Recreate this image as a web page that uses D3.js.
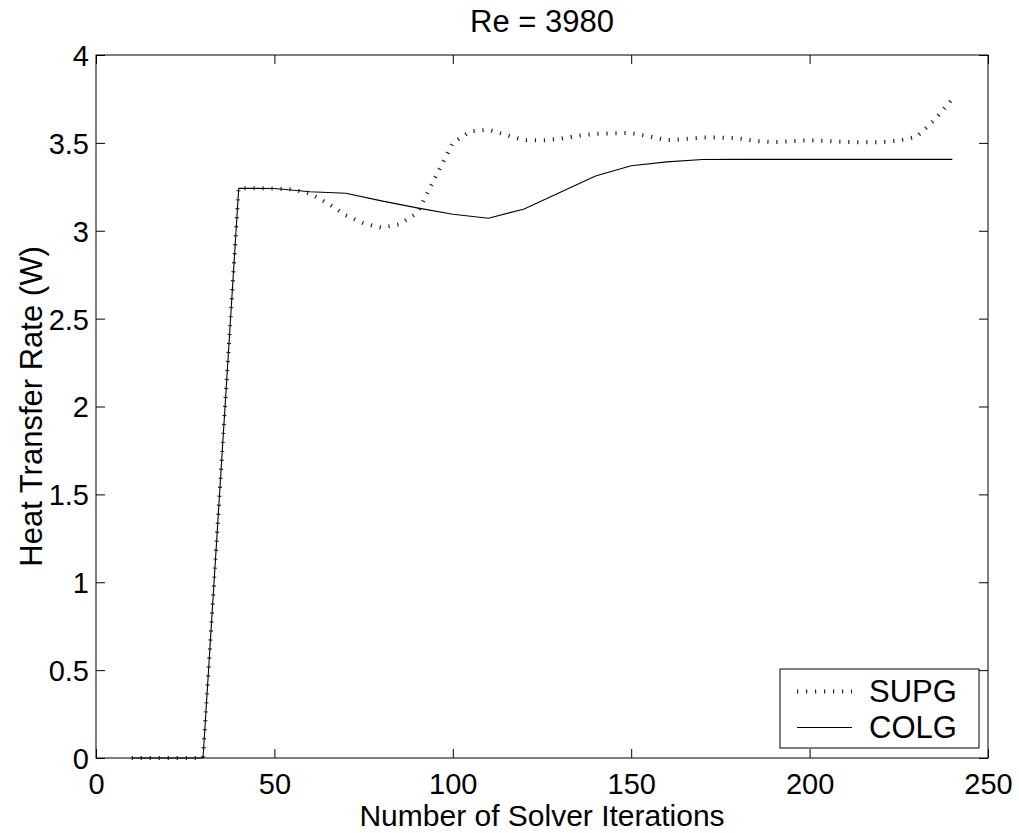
<!DOCTYPE html>
<html>
<head>
  <meta charset="utf-8">
  <script src="https://d3js.org/d3.v7.min.js"></script>
  <style>
    body { margin: 0; background: #fff; }
    text { font-family: "Liberation Sans", Arial, Helvetica, sans-serif; fill: #000; }
    .tick-label { font-size: 29px; }
    .label { font-size: 31px; }
    .xlabel { font-size: 30px; }
    .frame { fill: none; stroke: #000; stroke-width: 1px; }
  </style>
</head>
<body>
  <svg id="chart" width="1019" height="833"></svg>
  <script>

    // ---- data ----
    const colgX = [10, 20, 30, 40, 50, 60, 70, 80, 90, 100, 110, 120, 130, 140, 150, 160, 170, 180, 190, 200, 210, 220, 230, 240];
    const colgY = [0, 0, 0, 3.242, 3.24, 3.222, 3.213, 3.17, 3.13, 3.094, 3.071, 3.124, 3.218, 3.311, 3.37, 3.392, 3.405, 3.406, 3.406, 3.406, 3.406, 3.406, 3.406, 3.406];

    const supgX = [10, 20, 30, 40, 45, 50, 55, 60, 65, 70, 75, 80, 85, 90, 95, 100, 105, 110, 115, 120, 125, 130, 135, 140, 145, 150, 155, 160, 165, 170, 175, 180, 185, 190, 195, 200, 205, 210, 215, 220, 225, 230, 235, 240];
    const supgY = [0, 0, 0, 3.242, 3.242, 3.24, 3.235, 3.212, 3.155, 3.088, 3.042, 3.017, 3.037, 3.1, 3.3, 3.5, 3.566, 3.575, 3.545, 3.515, 3.514, 3.523, 3.54, 3.552, 3.555, 3.556, 3.537, 3.515, 3.522, 3.53, 3.53, 3.526, 3.51, 3.504, 3.51, 3.515, 3.51, 3.506, 3.503, 3.504, 3.513, 3.535, 3.63, 3.75];

    const xTicks = [0, 50, 100, 150, 200, 250];
    const yTicks = [0, 0.5, 1, 1.5, 2, 2.5, 3, 3.5, 4];
    const seriesNames = ["SUPG", "COLG"];

    const svg = d3.select("#chart");
    const plot = { left: 96, right: 988, top: 55, bottom: 758 };

    const x = d3.scaleLinear().domain([0, 250]).range([plot.left, plot.right]);
    const y = d3.scaleLinear().domain([0, 4]).range([plot.bottom, plot.top]);
    const tickLen = 9;

    // frame box
    svg.append("rect").attr("class", "frame")
       .attr("x", plot.left).attr("y", plot.top)
       .attr("width", plot.right - plot.left).attr("height", plot.bottom - plot.top);

    // axes with inward ticks (matlab style), mirrored on top / right
    const fmt = d => String(d);
    const bottomAxis = svg.append("g").attr("transform", `translate(0,${plot.bottom})`)
       .call(d3.axisBottom(x).tickValues(xTicks).tickSize(-tickLen).tickPadding(0).tickFormat(fmt));
    const topAxis = svg.append("g").attr("transform", `translate(0,${plot.top})`)
       .call(d3.axisTop(x).tickValues(xTicks).tickSize(-tickLen).tickFormat(""));
    const leftAxis = svg.append("g").attr("transform", `translate(${plot.left},0)`)
       .call(d3.axisLeft(y).tickValues(yTicks).tickSize(-tickLen).tickPadding(7).tickFormat(fmt));
    const rightAxis = svg.append("g").attr("transform", `translate(${plot.right},0)`)
       .call(d3.axisRight(y).tickValues(yTicks).tickSize(-tickLen).tickFormat(""));

    [bottomAxis, topAxis, leftAxis, rightAxis].forEach(g => {
      g.select(".domain").remove();
      g.selectAll(".tick line").attr("stroke", "#000");
      g.selectAll(".tick text").attr("class", "tick-label")
        .attr("font-family", null).attr("font-size", null);
    });
    bottomAxis.selectAll(".tick text").attr("y", 36).attr("dy", null);
    leftAxis.selectAll(".tick text").attr("dy", "0.36em");

    // lines
    const line = d3.line().x(d => x(d[0])).y(d => y(d[1]));
    const colg = colgX.map((v, i) => [v, colgY[i]]);
    const supg = supgX.map((v, i) => [v, supgY[i]]);

    svg.append("path").datum(colg)
       .attr("d", line).attr("fill", "none").attr("stroke", "#000").attr("stroke-width", 1.1);

    // dotted line: short strokes across the path, like the printed matlab dots
    svg.append("path").datum(supg)
       .attr("d", line).attr("fill", "none").attr("stroke", "#222")
       .attr("stroke-width", 4).attr("stroke-dasharray", "1.2,7.8");

    // titles
    svg.append("text").attr("class", "label")
       .attr("x", (plot.left + plot.right) / 2).attr("y", 32)
       .attr("text-anchor", "middle").text("Re = 3980");
    svg.append("text").attr("class", "xlabel")
       .attr("x", (plot.left + plot.right) / 2).attr("y", 826)
       .attr("text-anchor", "middle").text("Number of Solver Iterations");
    svg.append("text").attr("class", "label")
       .attr("transform", `translate(42,${(plot.top + plot.bottom) / 2}) rotate(-90)`)
       .attr("text-anchor", "middle").text("Heat Transfer Rate (W)");

    // legend
    const legend = svg.append("g");
    legend.append("rect").attr("x", 780).attr("y", 669).attr("width", 199).attr("height", 79)
          .attr("fill", "#fff").attr("stroke", "#000").attr("stroke-width", 1);
    const rows = [691.5, 727.5];
    seriesNames.forEach((name, i) => {
      const ln = legend.append("line")
        .attr("x1", 797).attr("x2", 852).attr("y1", rows[i]).attr("y2", rows[i])
        .attr("stroke", "#000");
      if (name === "SUPG") ln.attr("stroke-width", 4).attr("stroke-dasharray", "1.2,7.8").attr("stroke", "#222");
      else ln.attr("stroke-width", 1.1);
      legend.append("text").attr("class", "label")
        .attr("x", 869).attr("y", rows[i] + 10.5).text(name);
    });

  </script>
</body>
</html>
